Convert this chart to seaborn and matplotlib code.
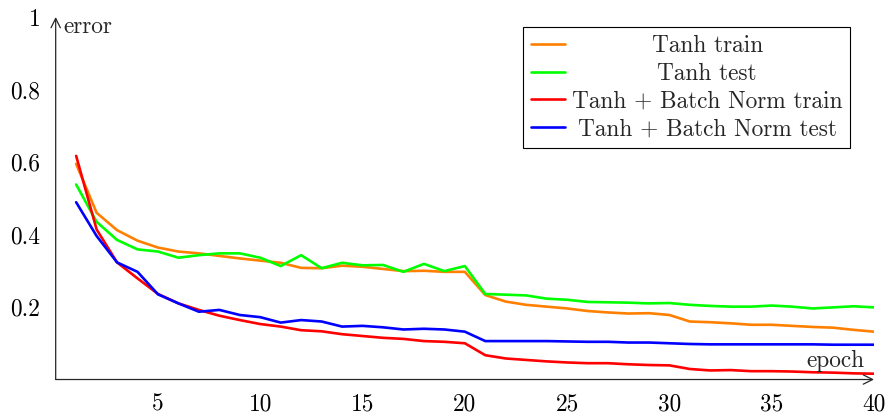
import matplotlib
matplotlib.use("Agg")
import matplotlib.pyplot as plt
import seaborn as sns
import pandas as pd

# data
epochs = list(range(1, 41))
tanh_train = [0.595, 0.460, 0.412, 0.383, 0.364, 0.353, 0.348, 0.341, 0.334, 0.328,
              0.322, 0.308, 0.307, 0.314, 0.311, 0.305, 0.299, 0.300, 0.297, 0.297,
              0.233, 0.215, 0.206, 0.201, 0.196, 0.189, 0.185, 0.182, 0.183, 0.178,
              0.160, 0.158, 0.155, 0.151, 0.151, 0.148, 0.145, 0.143, 0.137, 0.132]
tanh_test = [0.538, 0.435, 0.385, 0.359, 0.353, 0.336, 0.343, 0.348, 0.348, 0.336,
             0.313, 0.343, 0.307, 0.322, 0.315, 0.316, 0.297, 0.319, 0.299, 0.313,
             0.236, 0.234, 0.232, 0.223, 0.220, 0.214, 0.213, 0.212, 0.210, 0.211,
             0.206, 0.203, 0.201, 0.201, 0.204, 0.201, 0.196, 0.199, 0.202, 0.199]
bn_train = [0.617, 0.414, 0.323, 0.279, 0.236, 0.210, 0.192, 0.176, 0.164, 0.153,
            0.146, 0.136, 0.133, 0.125, 0.120, 0.115, 0.112, 0.106, 0.104, 0.100,
            0.067, 0.058, 0.054, 0.050, 0.047, 0.045, 0.045, 0.042, 0.040, 0.039,
            0.029, 0.025, 0.026, 0.023, 0.023, 0.022, 0.020, 0.019, 0.017, 0.016]
bn_test = [0.489, 0.396, 0.323, 0.297, 0.235, 0.210, 0.187, 0.192, 0.178, 0.172,
           0.157, 0.164, 0.160, 0.146, 0.148, 0.144, 0.138, 0.140, 0.138, 0.132,
           0.106, 0.106, 0.106, 0.106, 0.105, 0.104, 0.104, 0.102, 0.102, 0.100,
           0.098, 0.097, 0.097, 0.097, 0.097, 0.097, 0.097, 0.096, 0.096, 0.096]

series_names = ["Tanh train", "Tanh test", "Tanh + Batch Norm train", "Tanh + Batch Norm test"]
series_colors = ["#ff8000", "#00ff00", "#ff0000", "#0000ff"]
xticks = [5, 10, 15, 20, 25, 30, 35, 40]
yticks = [0.2, 0.4, 0.6, 0.8, 1.0]
ytick_labels = ["0.2", "0.4", "0.6", "0.8", "1"]

FS = 16.8

sns.set_theme(style="white")
plt.rcParams["font.family"] = ["cmr10", "DejaVu Serif"]
plt.rcParams["mathtext.fontset"] = "cm"
plt.rcParams["axes.formatter.use_mathtext"] = True
plt.rcParams["font.size"] = FS

df = pd.DataFrame({
    "epoch": epochs * 4,
    "error": tanh_train + tanh_test + bn_train + bn_test,
    "series": [n for n in series_names for _ in epochs],
})

fig = plt.figure(figsize=(8.91, 4.17), dpi=100)
ax = fig.add_axes([0.0625, 0.0899, 0.9184, 0.8693])

sns.lineplot(data=df, x="epoch", y="error", hue="series", hue_order=series_names,
             palette=series_colors, linewidth=1.9, ax=ax, legend=False)

ax.set_xlim(0, 40)
ax.set_ylim(0, 1)
ax.set_xticks(xticks)
ax.set_xticklabels([str(t) for t in xticks])
ax.set_yticks(yticks)
ax.set_yticklabels(ytick_labels)
ax.set_xlabel("")
ax.set_ylabel("")
ax.tick_params(direction="out", length=5, width=0.8, color="0.55",
               labelsize=FS, labelcolor="black", pad=5)
ax.tick_params(axis="y", pad=6)
for s in ax.spines.values():
    s.set_visible(False)

# arrow axes
arrow = dict(arrowstyle="->", color="0.15", lw=0.9, shrinkA=0, shrinkB=0)
ax.annotate("", xy=(1, 0), xytext=(0, 0), xycoords="axes fraction", arrowprops=arrow)
ax.annotate("", xy=(0, 1), xytext=(0, 0), xycoords="axes fraction", arrowprops=arrow)

ax.text(0.4, 0.956, "error", ha="left", va="baseline", fontsize=FS)
ax.text(39.55, 0.035, "epoch", ha="right", va="baseline", fontsize=FS)

handles = ax.get_lines()[:4]
leg = ax.legend(handles, series_names, loc="upper right", bbox_to_anchor=(0.971, 0.972),
                borderaxespad=0, fancybox=False, framealpha=1, edgecolor="black",
                handlelength=1.45, handletextpad=0.3, borderpad=0.33, labelspacing=0.24,
                fontsize=FS)
leg.get_frame().set_linewidth(0.8)

# center the legend labels like pgfplots does
fig.canvas.draw()
texts = leg.get_texts()
boxes = [t.get_window_extent() for t in texts]
left = min(b.x0 for b in boxes)
right = max(b.x1 for b in boxes)
mid = (left + right) / 2
for t, b in zip(texts, boxes):
    xd, yd = t.get_transform().transform(t.get_position())
    shift = mid - (b.x0 + b.x1) / 2
    fx, fy = fig.transFigure.inverted().transform((xd + shift, yd))
    fig.text(fx, fy, t.get_text(), ha="left", va="baseline", fontsize=FS, zorder=10)
    t.set_visible(False)

fig.savefig("out.png", dpi=100)
